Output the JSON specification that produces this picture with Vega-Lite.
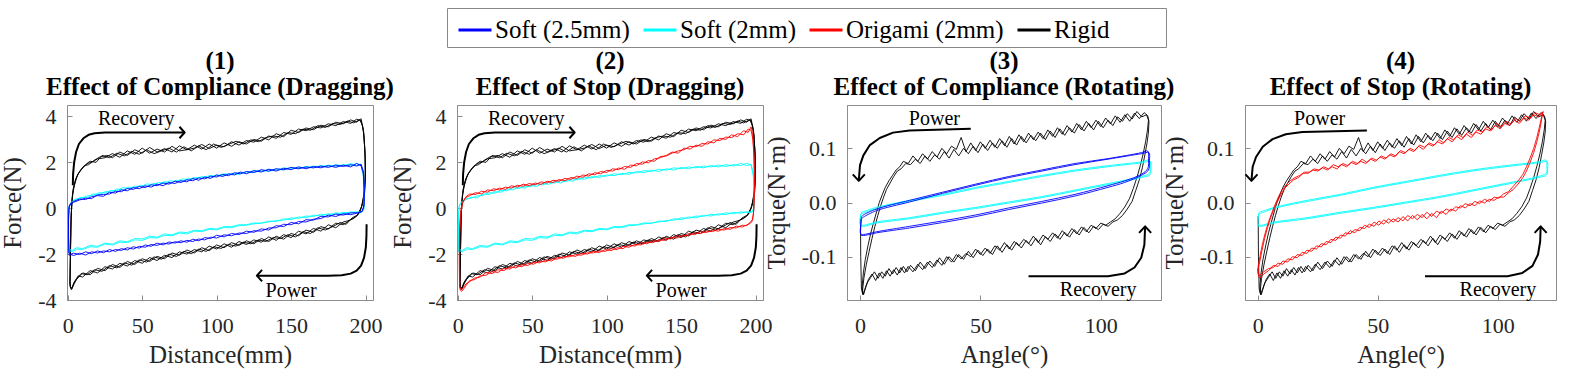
{
"$schema": "https://vega.github.io/schema/vega-lite/v6.json",
"background": "white",
"padding": {"left": 0, "top": 7, "right": 5, "bottom": 5},
"bounds": "flush",
"spacing": 84,
"config": {
 "font": "Liberation Serif",
 "view": {"stroke": "#8c8c8c"},
 "axis": {"grid": false, "domainColor": "#8c8c8c", "tickColor": "#8c8c8c", "tickSize": -5, "labelFontSize": 22, "titleFontSize": 25, "titleFontWeight": "normal", "labelColor": "#262626", "titleColor": "#262626", "labelFont": "Liberation Serif", "titleFont": "Liberation Serif"},
 "axisX": {"labelPadding": 20, "titlePadding": 6, "labelFlush": false},
 "axisY": {"labelPadding": 16, "titlePadding": 12},
 "title": {"fontSize": 25, "fontWeight": "bold", "color": "black", "anchor": "middle", "frame": "group", "lineHeight": 26, "offset": 5, "font": "Liberation Serif"},
 "text": {"font": "Liberation Serif"},
 "line": {"strokeJoin": "round"}
},
"datasets": {
"dR": [
{"c":1,"x":1.5,"y":-3.3},{"c":1,"x":1.8,"y":-2},{"c":1,"x":2.2,"y":-0.5},{"c":1,"x":2.8,"y":0.3},{"c":1,"x":3.5,"y":0.8},{"c":1,"x":5,"y":1.2},{"c":1,"x":7,"y":1.5},{"c":1,"x":10,"y":1.75},{"c":1,"x":13,"y":1.95},{"c":1,"x":16,"y":2.0},{"c":1,"x":20,"y":2.15},{"c":1,"x":25,"y":2.2},
{"c":1,"x":30,"y":2.38},{"c":1,"x":35,"y":2.22},{"c":1,"x":40,"y":2.5},{"c":1,"x":45,"y":2.35},{"c":1,"x":50,"y":2.62},{"c":1,"x":55,"y":2.4},{"c":1,"x":60,"y":2.58},{"c":1,"x":65,"y":2.45},{"c":1,"x":70,"y":2.7},{"c":1,"x":75,"y":2.5},{"c":1,"x":80,"y":2.55},{"c":1,"x":85,"y":2.75},{"c":1,"x":90,"y":2.58},{"c":1,"x":95,"y":2.8},{"c":1,"x":100,"y":2.62},{"c":1,"x":105,"y":2.85},{"c":1,"x":110,"y":2.7},{"c":1,"x":115,"y":2.9},{"c":1,"x":120,"y":2.8},{"c":1,"x":125,"y":3.0},{"c":1,"x":130,"y":2.92},{"c":1,"x":135,"y":3.15},{"c":1,"x":140,"y":3.05},{"c":1,"x":145,"y":3.3},{"c":1,"x":150,"y":3.22},{"c":1,"x":155,"y":3.45},{"c":1,"x":160,"y":3.38},{"c":1,"x":165,"y":3.55},{"c":1,"x":170,"y":3.5},{"c":1,"x":175,"y":3.68},{"c":1,"x":180,"y":3.6},{"c":1,"x":185,"y":3.78},{"c":1,"x":190,"y":3.7},{"c":1,"x":194,"y":3.88},{"c":1,"x":197,"y":3.82},
{"c":1,"x":198.5,"y":3.4},{"c":1,"x":199.5,"y":2.6},{"c":1,"x":200,"y":1.6},{"c":1,"x":199.5,"y":0.9},{"c":1,"x":198.5,"y":0.4},{"c":1,"x":197,"y":0.0},{"c":1,"x":194,"y":-0.35},{"c":1,"x":190,"y":-0.5},
{"c":1,"x":185,"y":-0.72},{"c":1,"x":180,"y":-0.65},{"c":1,"x":175,"y":-0.9},{"c":1,"x":170,"y":-0.8},{"c":1,"x":165,"y":-1.05},{"c":1,"x":160,"y":-0.95},{"c":1,"x":155,"y":-1.2},{"c":1,"x":150,"y":-1.1},{"c":1,"x":145,"y":-1.35},{"c":1,"x":140,"y":-1.22},{"c":1,"x":135,"y":-1.45},{"c":1,"x":130,"y":-1.32},{"c":1,"x":125,"y":-1.55},{"c":1,"x":120,"y":-1.42},{"c":1,"x":115,"y":-1.62},{"c":1,"x":110,"y":-1.5},{"c":1,"x":105,"y":-1.72},{"c":1,"x":100,"y":-1.6},{"c":1,"x":95,"y":-1.85},{"c":1,"x":90,"y":-1.72},{"c":1,"x":85,"y":-1.95},{"c":1,"x":80,"y":-1.82},{"c":1,"x":75,"y":-2.05},{"c":1,"x":70,"y":-1.95},{"c":1,"x":65,"y":-2.2},{"c":1,"x":60,"y":-2.1},{"c":1,"x":55,"y":-2.32},{"c":1,"x":50,"y":-2.2},{"c":1,"x":45,"y":-2.45},{"c":1,"x":40,"y":-2.32},{"c":1,"x":35,"y":-2.58},{"c":1,"x":30,"y":-2.45},{"c":1,"x":25,"y":-2.72},{"c":1,"x":20,"y":-2.62},{"c":1,"x":15,"y":-2.9},{"c":1,"x":10,"y":-2.82},{"c":1,"x":6,"y":-3.1},{"c":1,"x":4,"y":-3.3},{"c":1,"x":3,"y":-3.5},{"c":1,"x":2,"y":-3.45},{"c":1,"x":1.5,"y":-3.3},
{"c":2,"x":1.5,"y":-3.2},{"c":2,"x":1.9,"y":-1.8},{"c":2,"x":2.3,"y":-0.3},{"c":2,"x":3,"y":0.4},{"c":2,"x":4,"y":0.9},{"c":2,"x":5.5,"y":1.3},{"c":2,"x":8,"y":1.6},{"c":2,"x":11,"y":1.85},{"c":2,"x":14,"y":1.9},{"c":2,"x":18,"y":2.1},{"c":2,"x":22,"y":2.25},{"c":2,"x":27,"y":2.3},
{"c":2,"x":30,"y":2.2},{"c":2,"x":35,"y":2.45},{"c":2,"x":40,"y":2.3},{"c":2,"x":45,"y":2.55},{"c":2,"x":50,"y":2.4},{"c":2,"x":55,"y":2.65},{"c":2,"x":60,"y":2.45},{"c":2,"x":65,"y":2.6},{"c":2,"x":70,"y":2.45},{"c":2,"x":75,"y":2.72},{"c":2,"x":80,"y":2.55},{"c":2,"x":85,"y":2.62},{"c":2,"x":90,"y":2.78},{"c":2,"x":95,"y":2.6},{"c":2,"x":100,"y":2.75},{"c":2,"x":105,"y":2.68},{"c":2,"x":110,"y":2.9},{"c":2,"x":115,"y":2.75},{"c":2,"x":120,"y":2.95},{"c":2,"x":125,"y":2.88},{"c":2,"x":130,"y":3.1},{"c":2,"x":135,"y":2.98},{"c":2,"x":140,"y":3.25},{"c":2,"x":145,"y":3.12},{"c":2,"x":150,"y":3.4},{"c":2,"x":155,"y":3.3},{"c":2,"x":160,"y":3.5},{"c":2,"x":165,"y":3.42},{"c":2,"x":170,"y":3.62},{"c":2,"x":175,"y":3.55},{"c":2,"x":180,"y":3.75},{"c":2,"x":185,"y":3.68},{"c":2,"x":190,"y":3.85},{"c":2,"x":194,"y":3.75},{"c":2,"x":197,"y":3.9},
{"c":2,"x":198.8,"y":3.3},{"c":2,"x":199.6,"y":2.4},{"c":2,"x":200,"y":1.4},{"c":2,"x":199.4,"y":0.7},{"c":2,"x":198,"y":0.2},{"c":2,"x":196,"y":-0.2},{"c":2,"x":192,"y":-0.45},
{"c":2,"x":188,"y":-0.55},{"c":2,"x":185,"y":-0.6},{"c":2,"x":180,"y":-0.85},{"c":2,"x":175,"y":-0.72},{"c":2,"x":170,"y":-1.0},{"c":2,"x":165,"y":-0.88},{"c":2,"x":160,"y":-1.12},{"c":2,"x":155,"y":-1.0},{"c":2,"x":150,"y":-1.28},{"c":2,"x":145,"y":-1.15},{"c":2,"x":140,"y":-1.4},{"c":2,"x":135,"y":-1.25},{"c":2,"x":130,"y":-1.48},{"c":2,"x":125,"y":-1.38},{"c":2,"x":120,"y":-1.58},{"c":2,"x":115,"y":-1.45},{"c":2,"x":110,"y":-1.7},{"c":2,"x":105,"y":-1.55},{"c":2,"x":100,"y":-1.78},{"c":2,"x":95,"y":-1.65},{"c":2,"x":90,"y":-1.9},{"c":2,"x":85,"y":-1.8},{"c":2,"x":80,"y":-2.0},{"c":2,"x":75,"y":-1.9},{"c":2,"x":70,"y":-2.15},{"c":2,"x":65,"y":-2.05},{"c":2,"x":60,"y":-2.28},{"c":2,"x":55,"y":-2.15},{"c":2,"x":50,"y":-2.4},{"c":2,"x":45,"y":-2.28},{"c":2,"x":40,"y":-2.52},{"c":2,"x":35,"y":-2.4},{"c":2,"x":30,"y":-2.65},{"c":2,"x":25,"y":-2.55},{"c":2,"x":20,"y":-2.82},{"c":2,"x":15,"y":-2.72},{"c":2,"x":10,"y":-3.0},{"c":2,"x":7,"y":-2.95},{"c":2,"x":5,"y":-3.2},{"c":2,"x":3.5,"y":-3.4},{"c":2,"x":2.5,"y":-3.55},{"c":2,"x":1.8,"y":-3.4},{"c":2,"x":1.5,"y":-3.2},
{"c":3,"x":1.5,"y":-3.4},{"c":3,"x":1.7,"y":-2.2},{"c":3,"x":2.1,"y":-0.8},{"c":3,"x":2.6,"y":0.1},{"c":3,"x":3.2,"y":0.6},{"c":3,"x":4.5,"y":1.0},{"c":3,"x":6.5,"y":1.45},{"c":3,"x":9,"y":1.7},{"c":3,"x":12,"y":1.9},{"c":3,"x":15,"y":2.05},{"c":3,"x":19,"y":2.0},{"c":3,"x":23,"y":2.3},
{"c":3,"x":28,"y":2.2},{"c":3,"x":33,"y":2.4},{"c":3,"x":38,"y":2.28},{"c":3,"x":43,"y":2.48},{"c":3,"x":48,"y":2.35},{"c":3,"x":53,"y":2.55},{"c":3,"x":58,"y":2.38},{"c":3,"x":63,"y":2.5},{"c":3,"x":68,"y":2.62},{"c":3,"x":73,"y":2.45},{"c":3,"x":78,"y":2.68},{"c":3,"x":83,"y":2.5},{"c":3,"x":88,"y":2.72},{"c":3,"x":93,"y":2.55},{"c":3,"x":98,"y":2.8},{"c":3,"x":103,"y":2.65},{"c":3,"x":108,"y":2.78},{"c":3,"x":113,"y":2.92},{"c":3,"x":118,"y":2.8},{"c":3,"x":123,"y":2.98},{"c":3,"x":128,"y":2.9},{"c":3,"x":133,"y":3.08},{"c":3,"x":138,"y":3.15},{"c":3,"x":143,"y":3.1},{"c":3,"x":148,"y":3.3},{"c":3,"x":153,"y":3.25},{"c":3,"x":158,"y":3.45},{"c":3,"x":163,"y":3.4},{"c":3,"x":168,"y":3.6},{"c":3,"x":173,"y":3.52},{"c":3,"x":178,"y":3.7},{"c":3,"x":183,"y":3.65},{"c":3,"x":188,"y":3.8},{"c":3,"x":192,"y":3.72},{"c":3,"x":196,"y":3.86},
{"c":3,"x":198,"y":3.6},{"c":3,"x":199,"y":3.1},{"c":3,"x":199.8,"y":2.2},{"c":3,"x":199.6,"y":1.2},{"c":3,"x":198.8,"y":0.6},{"c":3,"x":197.5,"y":0.1},{"c":3,"x":195,"y":-0.28},{"c":3,"x":191,"y":-0.42},
{"c":3,"x":187,"y":-0.7},{"c":3,"x":183,"y":-0.62},{"c":3,"x":178,"y":-0.8},{"c":3,"x":173,"y":-0.95},{"c":3,"x":168,"y":-0.85},{"c":3,"x":163,"y":-1.1},{"c":3,"x":158,"y":-1.02},{"c":3,"x":153,"y":-1.25},{"c":3,"x":148,"y":-1.15},{"c":3,"x":143,"y":-1.32},{"c":3,"x":138,"y":-1.28},{"c":3,"x":133,"y":-1.45},{"c":3,"x":128,"y":-1.38},{"c":3,"x":123,"y":-1.55},{"c":3,"x":118,"y":-1.48},{"c":3,"x":113,"y":-1.65},{"c":3,"x":108,"y":-1.58},{"c":3,"x":103,"y":-1.75},{"c":3,"x":98,"y":-1.68},{"c":3,"x":93,"y":-1.88},{"c":3,"x":88,"y":-1.78},{"c":3,"x":83,"y":-1.98},{"c":3,"x":78,"y":-1.88},{"c":3,"x":73,"y":-2.1},{"c":3,"x":68,"y":-2.0},{"c":3,"x":63,"y":-2.22},{"c":3,"x":58,"y":-2.12},{"c":3,"x":53,"y":-2.35},{"c":3,"x":48,"y":-2.25},{"c":3,"x":43,"y":-2.48},{"c":3,"x":38,"y":-2.38},{"c":3,"x":33,"y":-2.6},{"c":3,"x":28,"y":-2.5},{"c":3,"x":23,"y":-2.75},{"c":3,"x":18,"y":-2.68},{"c":3,"x":13,"y":-2.9},{"c":3,"x":9,"y":-2.85},{"c":3,"x":6,"y":-3.05},{"c":3,"x":4,"y":-3.25},{"c":3,"x":3,"y":-3.45},{"c":3,"x":2,"y":-3.5},{"c":3,"x":1.5,"y":-3.4}
],
"dS25": [
{"c":1,"x":0.8,"y":-1.95},{"c":1,"x":0.5,"y":-1.2},{"c":1,"x":0.6,"y":-0.3},{"c":1,"x":1,"y":0.1},{"c":1,"x":2,"y":0.22},{"c":1,"x":4,"y":0.3},
{"c":1,"x":8,"y":0.4},{"c":1,"x":12,"y":0.38},{"c":1,"x":16,"y":0.5},{"c":1,"x":20,"y":0.55},{"c":1,"x":24,"y":0.52},{"c":1,"x":28,"y":0.7},{"c":1,"x":32,"y":0.66},{"c":1,"x":36,"y":0.8},{"c":1,"x":40,"y":0.76},{"c":1,"x":44,"y":0.9},{"c":1,"x":48,"y":0.85},{"c":1,"x":52,"y":0.98},{"c":1,"x":56,"y":0.92},{"c":1,"x":60,"y":1.05},{"c":1,"x":64,"y":0.98},{"c":1,"x":68,"y":1.12},{"c":1,"x":72,"y":1.08},{"c":1,"x":76,"y":1.2},{"c":1,"x":80,"y":1.15},{"c":1,"x":84,"y":1.3},{"c":1,"x":88,"y":1.22},{"c":1,"x":92,"y":1.36},{"c":1,"x":96,"y":1.3},{"c":1,"x":100,"y":1.45},{"c":1,"x":104,"y":1.38},{"c":1,"x":108,"y":1.5},{"c":1,"x":112,"y":1.45},{"c":1,"x":116,"y":1.58},{"c":1,"x":120,"y":1.5},{"c":1,"x":125,"y":1.64},{"c":1,"x":130,"y":1.58},{"c":1,"x":135,"y":1.7},{"c":1,"x":140,"y":1.62},{"c":1,"x":145,"y":1.74},{"c":1,"x":150,"y":1.68},{"c":1,"x":155,"y":1.8},{"c":1,"x":160,"y":1.72},{"c":1,"x":165,"y":1.82},{"c":1,"x":170,"y":1.76},{"c":1,"x":175,"y":1.86},{"c":1,"x":180,"y":1.78},{"c":1,"x":185,"y":1.88},{"c":1,"x":190,"y":1.8},{"c":1,"x":194,"y":1.95},{"c":1,"x":197,"y":1.85},
{"c":1,"x":198.5,"y":1.5},{"c":1,"x":199,"y":0.8},{"c":1,"x":199,"y":0.2},{"c":1,"x":198,"y":-0.12},{"c":1,"x":195,"y":-0.2},
{"c":1,"x":190,"y":-0.2},{"c":1,"x":185,"y":-0.3},{"c":1,"x":180,"y":-0.25},{"c":1,"x":175,"y":-0.38},{"c":1,"x":170,"y":-0.35},{"c":1,"x":165,"y":-0.52},{"c":1,"x":160,"y":-0.5},{"c":1,"x":155,"y":-0.68},{"c":1,"x":150,"y":-0.62},{"c":1,"x":145,"y":-0.8},{"c":1,"x":140,"y":-0.76},{"c":1,"x":135,"y":-0.95},{"c":1,"x":130,"y":-0.9},{"c":1,"x":125,"y":-1.05},{"c":1,"x":120,"y":-1.0},{"c":1,"x":115,"y":-1.15},{"c":1,"x":110,"y":-1.1},{"c":1,"x":105,"y":-1.25},{"c":1,"x":100,"y":-1.18},{"c":1,"x":96,"y":-1.32},{"c":1,"x":92,"y":-1.28},{"c":1,"x":88,"y":-1.42},{"c":1,"x":84,"y":-1.35},{"c":1,"x":80,"y":-1.48},{"c":1,"x":76,"y":-1.42},{"c":1,"x":72,"y":-1.52},{"c":1,"x":68,"y":-1.47},{"c":1,"x":64,"y":-1.6},{"c":1,"x":60,"y":-1.52},{"c":1,"x":56,"y":-1.66},{"c":1,"x":52,"y":-1.6},{"c":1,"x":48,"y":-1.74},{"c":1,"x":44,"y":-1.68},{"c":1,"x":40,"y":-1.82},{"c":1,"x":36,"y":-1.76},{"c":1,"x":32,"y":-1.88},{"c":1,"x":28,"y":-1.8},{"c":1,"x":24,"y":-1.94},{"c":1,"x":20,"y":-1.86},{"c":1,"x":16,"y":-1.98},{"c":1,"x":12,"y":-1.9},{"c":1,"x":8,"y":-2.02},{"c":1,"x":4,"y":-1.96},{"c":1,"x":2,"y":-2.0},{"c":1,"x":0.8,"y":-1.95},
{"c":2,"x":0.9,"y":-2.05},{"c":2,"x":0.6,"y":-1.4},{"c":2,"x":0.5,"y":-0.5},{"c":2,"x":0.9,"y":0.05},{"c":2,"x":2,"y":0.18},{"c":2,"x":4,"y":0.26},
{"c":2,"x":8,"y":0.36},{"c":2,"x":12,"y":0.44},{"c":2,"x":16,"y":0.42},{"c":2,"x":20,"y":0.58},{"c":2,"x":24,"y":0.6},{"c":2,"x":28,"y":0.62},{"c":2,"x":32,"y":0.74},{"c":2,"x":36,"y":0.72},{"c":2,"x":40,"y":0.86},{"c":2,"x":44,"y":0.82},{"c":2,"x":48,"y":0.95},{"c":2,"x":52,"y":0.9},{"c":2,"x":56,"y":1.02},{"c":2,"x":60,"y":0.98},{"c":2,"x":64,"y":1.1},{"c":2,"x":68,"y":1.05},{"c":2,"x":72,"y":1.18},{"c":2,"x":76,"y":1.12},{"c":2,"x":80,"y":1.24},{"c":2,"x":84,"y":1.2},{"c":2,"x":88,"y":1.32},{"c":2,"x":92,"y":1.28},{"c":2,"x":96,"y":1.4},{"c":2,"x":100,"y":1.36},{"c":2,"x":104,"y":1.48},{"c":2,"x":108,"y":1.42},{"c":2,"x":112,"y":1.55},{"c":2,"x":116,"y":1.5},{"c":2,"x":120,"y":1.6},{"c":2,"x":125,"y":1.56},{"c":2,"x":130,"y":1.68},{"c":2,"x":135,"y":1.62},{"c":2,"x":140,"y":1.72},{"c":2,"x":145,"y":1.68},{"c":2,"x":150,"y":1.78},{"c":2,"x":155,"y":1.72},{"c":2,"x":160,"y":1.8},{"c":2,"x":165,"y":1.76},{"c":2,"x":170,"y":1.84},{"c":2,"x":175,"y":1.78},{"c":2,"x":180,"y":1.88},{"c":2,"x":185,"y":1.82},{"c":2,"x":190,"y":1.9},{"c":2,"x":194,"y":1.84},{"c":2,"x":197,"y":1.92},
{"c":2,"x":198.6,"y":1.6},{"c":2,"x":199.2,"y":0.9},{"c":2,"x":199,"y":0.1},{"c":2,"x":197.5,"y":-0.15},{"c":2,"x":194,"y":-0.22},
{"c":2,"x":190,"y":-0.28},{"c":2,"x":185,"y":-0.24},{"c":2,"x":180,"y":-0.36},{"c":2,"x":175,"y":-0.3},{"c":2,"x":170,"y":-0.45},{"c":2,"x":165,"y":-0.48},{"c":2,"x":160,"y":-0.6},{"c":2,"x":155,"y":-0.58},{"c":2,"x":150,"y":-0.72},{"c":2,"x":145,"y":-0.7},{"c":2,"x":140,"y":-0.85},{"c":2,"x":135,"y":-0.86},{"c":2,"x":130,"y":-1.0},{"c":2,"x":125,"y":-0.98},{"c":2,"x":120,"y":-1.1},{"c":2,"x":115,"y":-1.08},{"c":2,"x":110,"y":-1.2},{"c":2,"x":105,"y":-1.16},{"c":2,"x":100,"y":-1.3},{"c":2,"x":96,"y":-1.26},{"c":2,"x":92,"y":-1.38},{"c":2,"x":88,"y":-1.34},{"c":2,"x":84,"y":-1.45},{"c":2,"x":80,"y":-1.4},{"c":2,"x":76,"y":-1.5},{"c":2,"x":72,"y":-1.46},{"c":2,"x":68,"y":-1.56},{"c":2,"x":64,"y":-1.52},{"c":2,"x":60,"y":-1.62},{"c":2,"x":56,"y":-1.58},{"c":2,"x":52,"y":-1.7},{"c":2,"x":48,"y":-1.66},{"c":2,"x":44,"y":-1.78},{"c":2,"x":40,"y":-1.72},{"c":2,"x":36,"y":-1.84},{"c":2,"x":32,"y":-1.8},{"c":2,"x":28,"y":-1.9},{"c":2,"x":24,"y":-1.86},{"c":2,"x":20,"y":-1.95},{"c":2,"x":16,"y":-1.9},{"c":2,"x":12,"y":-2.04},{"c":2,"x":8,"y":-1.96},{"c":2,"x":4,"y":-2.06},{"c":2,"x":2,"y":-2.02},{"c":2,"x":0.9,"y":-2.05}
],
"dS2": [
{"c":1,"x":0.6,"y":-1.9},{"c":1,"x":0.4,"y":-1.0},{"c":1,"x":0.6,"y":-0.2},{"c":1,"x":1.2,"y":0.15},{"c":1,"x":2.5,"y":0.28},{"c":1,"x":5,"y":0.36},
{"c":1,"x":9,"y":0.48},{"c":1,"x":13,"y":0.45},{"c":1,"x":17,"y":0.62},{"c":1,"x":21,"y":0.6},{"c":1,"x":25,"y":0.72},{"c":1,"x":29,"y":0.7},{"c":1,"x":33,"y":0.84},{"c":1,"x":37,"y":0.8},{"c":1,"x":41,"y":0.92},{"c":1,"x":45,"y":0.88},{"c":1,"x":49,"y":1.0},{"c":1,"x":53,"y":0.95},{"c":1,"x":57,"y":1.08},{"c":1,"x":61,"y":1.04},{"c":1,"x":65,"y":1.16},{"c":1,"x":69,"y":1.1},{"c":1,"x":73,"y":1.22},{"c":1,"x":77,"y":1.18},{"c":1,"x":81,"y":1.3},{"c":1,"x":85,"y":1.26},{"c":1,"x":90,"y":1.38},{"c":1,"x":95,"y":1.34},{"c":1,"x":100,"y":1.45},{"c":1,"x":105,"y":1.42},{"c":1,"x":110,"y":1.52},{"c":1,"x":115,"y":1.48},{"c":1,"x":120,"y":1.6},{"c":1,"x":125,"y":1.55},{"c":1,"x":130,"y":1.66},{"c":1,"x":135,"y":1.6},{"c":1,"x":140,"y":1.72},{"c":1,"x":145,"y":1.66},{"c":1,"x":150,"y":1.78},{"c":1,"x":155,"y":1.72},{"c":1,"x":160,"y":1.82},{"c":1,"x":165,"y":1.76},{"c":1,"x":170,"y":1.86},{"c":1,"x":175,"y":1.8},{"c":1,"x":180,"y":1.9},{"c":1,"x":185,"y":1.84},{"c":1,"x":190,"y":1.95},{"c":1,"x":194,"y":1.86},{"c":1,"x":197,"y":1.92},
{"c":1,"x":198.6,"y":1.5},{"c":1,"x":199.2,"y":0.7},{"c":1,"x":199,"y":0.0},{"c":1,"x":197.5,"y":-0.15},{"c":1,"x":194,"y":-0.18},
{"c":1,"x":190,"y":-0.16},{"c":1,"x":185,"y":-0.24},{"c":1,"x":180,"y":-0.2},{"c":1,"x":175,"y":-0.3},{"c":1,"x":170,"y":-0.26},{"c":1,"x":165,"y":-0.36},{"c":1,"x":160,"y":-0.34},{"c":1,"x":155,"y":-0.44},{"c":1,"x":150,"y":-0.42},{"c":1,"x":145,"y":-0.52},{"c":1,"x":140,"y":-0.54},{"c":1,"x":135,"y":-0.6},{"c":1,"x":130,"y":-0.64},{"c":1,"x":125,"y":-0.68},{"c":1,"x":120,"y":-0.74},{"c":1,"x":115,"y":-0.76},{"c":1,"x":110,"y":-0.85},{"c":1,"x":105,"y":-0.84},{"c":1,"x":100,"y":-0.94},{"c":1,"x":95,"y":-0.92},{"c":1,"x":90,"y":-1.02},{"c":1,"x":85,"y":-1.0},{"c":1,"x":80,"y":-1.12},{"c":1,"x":75,"y":-1.08},{"c":1,"x":70,"y":-1.2},{"c":1,"x":65,"y":-1.18},{"c":1,"x":60,"y":-1.3},{"c":1,"x":55,"y":-1.28},{"c":1,"x":50,"y":-1.4},{"c":1,"x":45,"y":-1.38},{"c":1,"x":40,"y":-1.5},{"c":1,"x":35,"y":-1.48},{"c":1,"x":30,"y":-1.6},{"c":1,"x":25,"y":-1.56},{"c":1,"x":20,"y":-1.7},{"c":1,"x":15,"y":-1.68},{"c":1,"x":10,"y":-1.8},{"c":1,"x":6,"y":-1.78},{"c":1,"x":3,"y":-1.9},{"c":1,"x":1.5,"y":-1.86},{"c":1,"x":0.6,"y":-1.9},
{"c":2,"x":0.7,"y":-1.82},{"c":2,"x":0.5,"y":-1.1},{"c":2,"x":0.5,"y":-0.4},{"c":2,"x":1,"y":0.1},{"c":2,"x":2.5,"y":0.24},{"c":2,"x":5,"y":0.4},
{"c":2,"x":9,"y":0.44},{"c":2,"x":13,"y":0.54},{"c":2,"x":17,"y":0.56},{"c":2,"x":21,"y":0.68},{"c":2,"x":25,"y":0.66},{"c":2,"x":29,"y":0.78},{"c":2,"x":33,"y":0.76},{"c":2,"x":37,"y":0.9},{"c":2,"x":41,"y":0.86},{"c":2,"x":45,"y":0.96},{"c":2,"x":49,"y":0.94},{"c":2,"x":53,"y":1.06},{"c":2,"x":57,"y":1.02},{"c":2,"x":61,"y":1.12},{"c":2,"x":65,"y":1.1},{"c":2,"x":69,"y":1.2},{"c":2,"x":73,"y":1.16},{"c":2,"x":77,"y":1.28},{"c":2,"x":81,"y":1.24},{"c":2,"x":85,"y":1.34},{"c":2,"x":90,"y":1.32},{"c":2,"x":95,"y":1.42},{"c":2,"x":100,"y":1.4},{"c":2,"x":105,"y":1.5},{"c":2,"x":110,"y":1.46},{"c":2,"x":115,"y":1.56},{"c":2,"x":120,"y":1.54},{"c":2,"x":125,"y":1.64},{"c":2,"x":130,"y":1.6},{"c":2,"x":135,"y":1.7},{"c":2,"x":140,"y":1.66},{"c":2,"x":145,"y":1.76},{"c":2,"x":150,"y":1.72},{"c":2,"x":155,"y":1.8},{"c":2,"x":160,"y":1.76},{"c":2,"x":165,"y":1.84},{"c":2,"x":170,"y":1.8},{"c":2,"x":175,"y":1.88},{"c":2,"x":180,"y":1.82},{"c":2,"x":185,"y":1.9},{"c":2,"x":190,"y":1.86},{"c":2,"x":194,"y":1.96},{"c":2,"x":197,"y":1.88},
{"c":2,"x":198.5,"y":1.4},{"c":2,"x":199.1,"y":0.6},{"c":2,"x":198.8,"y":-0.05},{"c":2,"x":197,"y":-0.2},{"c":2,"x":194,"y":-0.15},
{"c":2,"x":190,"y":-0.22},{"c":2,"x":185,"y":-0.18},{"c":2,"x":180,"y":-0.28},{"c":2,"x":175,"y":-0.24},{"c":2,"x":170,"y":-0.34},{"c":2,"x":165,"y":-0.3},{"c":2,"x":160,"y":-0.42},{"c":2,"x":155,"y":-0.38},{"c":2,"x":150,"y":-0.5},{"c":2,"x":145,"y":-0.46},{"c":2,"x":140,"y":-0.58},{"c":2,"x":135,"y":-0.56},{"c":2,"x":130,"y":-0.66},{"c":2,"x":125,"y":-0.64},{"c":2,"x":120,"y":-0.72},{"c":2,"x":115,"y":-0.72},{"c":2,"x":110,"y":-0.8},{"c":2,"x":105,"y":-0.8},{"c":2,"x":100,"y":-0.9},{"c":2,"x":95,"y":-0.88},{"c":2,"x":90,"y":-0.98},{"c":2,"x":85,"y":-0.96},{"c":2,"x":80,"y":-1.06},{"c":2,"x":75,"y":-1.04},{"c":2,"x":70,"y":-1.16},{"c":2,"x":65,"y":-1.12},{"c":2,"x":60,"y":-1.26},{"c":2,"x":55,"y":-1.22},{"c":2,"x":50,"y":-1.34},{"c":2,"x":45,"y":-1.32},{"c":2,"x":40,"y":-1.46},{"c":2,"x":35,"y":-1.42},{"c":2,"x":30,"y":-1.56},{"c":2,"x":25,"y":-1.52},{"c":2,"x":20,"y":-1.66},{"c":2,"x":15,"y":-1.62},{"c":2,"x":10,"y":-1.76},{"c":2,"x":6,"y":-1.72},{"c":2,"x":3,"y":-1.84},{"c":2,"x":1.5,"y":-1.8},{"c":2,"x":0.7,"y":-1.82}
],
"dO": [
{"c":1,"x":1.2,"y":-3.4},{"c":1,"x":1.0,"y":-2.2},{"c":1,"x":1.2,"y":-1.0},{"c":1,"x":1.8,"y":-0.2},{"c":1,"x":3,"y":0.25},{"c":1,"x":5,"y":0.45},
{"c":1,"x":8,"y":0.55},{"c":1,"x":12,"y":0.68},{"c":1,"x":16,"y":0.62},{"c":1,"x":20,"y":0.8},{"c":1,"x":24,"y":0.76},{"c":1,"x":28,"y":0.88},{"c":1,"x":32,"y":0.82},{"c":1,"x":36,"y":0.98},{"c":1,"x":40,"y":0.92},{"c":1,"x":44,"y":1.05},{"c":1,"x":48,"y":0.98},{"c":1,"x":52,"y":1.1},{"c":1,"x":56,"y":1.04},{"c":1,"x":60,"y":1.18},{"c":1,"x":64,"y":1.12},{"c":1,"x":68,"y":1.25},{"c":1,"x":72,"y":1.2},{"c":1,"x":76,"y":1.34},{"c":1,"x":80,"y":1.3},{"c":1,"x":84,"y":1.45},{"c":1,"x":88,"y":1.4},{"c":1,"x":92,"y":1.55},{"c":1,"x":96,"y":1.5},{"c":1,"x":100,"y":1.65},{"c":1,"x":104,"y":1.62},{"c":1,"x":108,"y":1.75},{"c":1,"x":112,"y":1.7},{"c":1,"x":116,"y":1.88},{"c":1,"x":120,"y":1.85},{"c":1,"x":124,"y":2.02},{"c":1,"x":128,"y":1.98},{"c":1,"x":132,"y":2.15},{"c":1,"x":136,"y":2.2},{"c":1,"x":140,"y":2.3},{"c":1,"x":144,"y":2.45},{"c":1,"x":148,"y":2.4},{"c":1,"x":152,"y":2.62},{"c":1,"x":156,"y":2.58},{"c":1,"x":160,"y":2.75},{"c":1,"x":164,"y":2.7},{"c":1,"x":168,"y":2.9},{"c":1,"x":172,"y":2.85},{"c":1,"x":176,"y":3.05},{"c":1,"x":180,"y":3.0},{"c":1,"x":184,"y":3.2},{"c":1,"x":188,"y":3.12},{"c":1,"x":192,"y":3.38},{"c":1,"x":195,"y":3.3},{"c":1,"x":197,"y":3.55},
{"c":1,"x":198,"y":3.3},{"c":1,"x":198.8,"y":2.5},{"c":1,"x":199.2,"y":1.5},{"c":1,"x":199.2,"y":0.6},{"c":1,"x":198.8,"y":-0.1},{"c":1,"x":198,"y":-0.5},{"c":1,"x":195,"y":-0.7},
{"c":1,"x":191,"y":-0.82},{"c":1,"x":187,"y":-0.78},{"c":1,"x":183,"y":-0.92},{"c":1,"x":179,"y":-0.88},{"c":1,"x":175,"y":-1.0},{"c":1,"x":171,"y":-0.95},{"c":1,"x":167,"y":-1.06},{"c":1,"x":163,"y":-1.02},{"c":1,"x":159,"y":-1.15},{"c":1,"x":155,"y":-1.1},{"c":1,"x":151,"y":-1.25},{"c":1,"x":147,"y":-1.2},{"c":1,"x":143,"y":-1.34},{"c":1,"x":139,"y":-1.3},{"c":1,"x":135,"y":-1.45},{"c":1,"x":131,"y":-1.42},{"c":1,"x":127,"y":-1.55},{"c":1,"x":123,"y":-1.5},{"c":1,"x":119,"y":-1.65},{"c":1,"x":115,"y":-1.6},{"c":1,"x":111,"y":-1.76},{"c":1,"x":107,"y":-1.72},{"c":1,"x":103,"y":-1.85},{"c":1,"x":99,"y":-1.8},{"c":1,"x":95,"y":-1.93},{"c":1,"x":91,"y":-1.88},{"c":1,"x":87,"y":-2.0},{"c":1,"x":83,"y":-1.96},{"c":1,"x":79,"y":-2.1},{"c":1,"x":75,"y":-2.05},{"c":1,"x":71,"y":-2.18},{"c":1,"x":67,"y":-2.14},{"c":1,"x":63,"y":-2.3},{"c":1,"x":59,"y":-2.25},{"c":1,"x":55,"y":-2.38},{"c":1,"x":51,"y":-2.35},{"c":1,"x":47,"y":-2.5},{"c":1,"x":43,"y":-2.45},{"c":1,"x":39,"y":-2.6},{"c":1,"x":35,"y":-2.55},{"c":1,"x":31,"y":-2.72},{"c":1,"x":27,"y":-2.68},{"c":1,"x":23,"y":-2.85},{"c":1,"x":19,"y":-2.8},{"c":1,"x":15,"y":-3.0},{"c":1,"x":11,"y":-3.05},{"c":1,"x":8,"y":-3.2},{"c":1,"x":5.5,"y":-3.3},{"c":1,"x":4,"y":-3.45},{"c":1,"x":2.7,"y":-3.55},{"c":1,"x":1.8,"y":-3.5},{"c":1,"x":1.2,"y":-3.4},
{"c":2,"x":1.4,"y":-3.5},{"c":2,"x":1.2,"y":-2.4},{"c":2,"x":1.3,"y":-1.2},{"c":2,"x":1.9,"y":-0.3},{"c":2,"x":3.2,"y":0.2},{"c":2,"x":5.5,"y":0.5},
{"c":2,"x":8,"y":0.62},{"c":2,"x":12,"y":0.6},{"c":2,"x":16,"y":0.74},{"c":2,"x":20,"y":0.7},{"c":2,"x":24,"y":0.85},{"c":2,"x":28,"y":0.8},{"c":2,"x":32,"y":0.92},{"c":2,"x":36,"y":0.88},{"c":2,"x":40,"y":1.0},{"c":2,"x":44,"y":0.96},{"c":2,"x":48,"y":1.08},{"c":2,"x":52,"y":1.02},{"c":2,"x":56,"y":1.15},{"c":2,"x":60,"y":1.1},{"c":2,"x":64,"y":1.22},{"c":2,"x":68,"y":1.18},{"c":2,"x":72,"y":1.3},{"c":2,"x":76,"y":1.26},{"c":2,"x":80,"y":1.4},{"c":2,"x":84,"y":1.35},{"c":2,"x":88,"y":1.5},{"c":2,"x":92,"y":1.46},{"c":2,"x":96,"y":1.6},{"c":2,"x":100,"y":1.56},{"c":2,"x":104,"y":1.72},{"c":2,"x":108,"y":1.68},{"c":2,"x":112,"y":1.82},{"c":2,"x":116,"y":1.78},{"c":2,"x":120,"y":1.95},{"c":2,"x":124,"y":1.92},{"c":2,"x":128,"y":2.08},{"c":2,"x":132,"y":2.05},{"c":2,"x":136,"y":2.25},{"c":2,"x":140,"y":2.28},{"c":2,"x":144,"y":2.4},{"c":2,"x":148,"y":2.5},{"c":2,"x":152,"y":2.55},{"c":2,"x":156,"y":2.7},{"c":2,"x":160,"y":2.68},{"c":2,"x":164,"y":2.82},{"c":2,"x":168,"y":2.8},{"c":2,"x":172,"y":2.98},{"c":2,"x":176,"y":2.95},{"c":2,"x":180,"y":3.1},{"c":2,"x":184,"y":3.08},{"c":2,"x":188,"y":3.25},{"c":2,"x":192,"y":3.2},{"c":2,"x":195,"y":3.45},{"c":2,"x":197,"y":3.4},
{"c":2,"x":198.2,"y":3.0},{"c":2,"x":199,"y":2.2},{"c":2,"x":199.3,"y":1.2},{"c":2,"x":199,"y":0.3},{"c":2,"x":198.5,"y":-0.3},{"c":2,"x":197.5,"y":-0.6},{"c":2,"x":194,"y":-0.76},
{"c":2,"x":191,"y":-0.74},{"c":2,"x":187,"y":-0.86},{"c":2,"x":183,"y":-0.84},{"c":2,"x":179,"y":-0.95},{"c":2,"x":175,"y":-0.92},{"c":2,"x":171,"y":-1.02},{"c":2,"x":167,"y":-1.0},{"c":2,"x":163,"y":-1.1},{"c":2,"x":159,"y":-1.08},{"c":2,"x":155,"y":-1.2},{"c":2,"x":151,"y":-1.18},{"c":2,"x":147,"y":-1.3},{"c":2,"x":143,"y":-1.28},{"c":2,"x":139,"y":-1.4},{"c":2,"x":135,"y":-1.38},{"c":2,"x":131,"y":-1.5},{"c":2,"x":127,"y":-1.48},{"c":2,"x":123,"y":-1.6},{"c":2,"x":119,"y":-1.58},{"c":2,"x":115,"y":-1.7},{"c":2,"x":111,"y":-1.66},{"c":2,"x":107,"y":-1.8},{"c":2,"x":103,"y":-1.76},{"c":2,"x":99,"y":-1.88},{"c":2,"x":95,"y":-1.86},{"c":2,"x":91,"y":-1.95},{"c":2,"x":87,"y":-1.94},{"c":2,"x":83,"y":-2.05},{"c":2,"x":79,"y":-2.02},{"c":2,"x":75,"y":-2.12},{"c":2,"x":71,"y":-2.1},{"c":2,"x":67,"y":-2.22},{"c":2,"x":63,"y":-2.2},{"c":2,"x":59,"y":-2.34},{"c":2,"x":55,"y":-2.3},{"c":2,"x":51,"y":-2.44},{"c":2,"x":47,"y":-2.4},{"c":2,"x":43,"y":-2.55},{"c":2,"x":39,"y":-2.5},{"c":2,"x":35,"y":-2.65},{"c":2,"x":31,"y":-2.62},{"c":2,"x":27,"y":-2.8},{"c":2,"x":23,"y":-2.76},{"c":2,"x":19,"y":-2.92},{"c":2,"x":15,"y":-2.95},{"c":2,"x":11,"y":-3.12},{"c":2,"x":8,"y":-3.15},{"c":2,"x":5.5,"y":-3.38},{"c":2,"x":4,"y":-3.52},{"c":2,"x":2.7,"y":-3.62},{"c":2,"x":1.8,"y":-3.58},{"c":2,"x":1.4,"y":-3.5}
],
"rR": [
{"c":1,"x":0.2,"y":-0.025},{"c":1,"x":0.3,"y":-0.1},{"c":1,"x":0.6,"y":-0.16},{"c":1,"x":1.2,"y":-0.17},
{"c":1,"x":2,"y":-0.16},{"c":1,"x":3,"y":-0.148},{"c":1,"x":4.5,"y":-0.138},{"c":1,"x":6,"y":-0.128},{"c":1,"x":7.5,"y":-0.14},{"c":1,"x":9,"y":-0.128},{"c":1,"x":10.5,"y":-0.136},{"c":1,"x":12,"y":-0.122},{"c":1,"x":13.5,"y":-0.132},{"c":1,"x":15,"y":-0.12},{"c":1,"x":16.5,"y":-0.13},{"c":1,"x":18,"y":-0.118},{"c":1,"x":19.5,"y":-0.128},{"c":1,"x":21,"y":-0.116},{"c":1,"x":23,"y":-0.126},{"c":1,"x":25,"y":-0.11},{"c":1,"x":27,"y":-0.122},{"c":1,"x":29,"y":-0.108},{"c":1,"x":31,"y":-0.118},{"c":1,"x":33,"y":-0.102},{"c":1,"x":35,"y":-0.114},{"c":1,"x":37,"y":-0.1},{"c":1,"x":39,"y":-0.11},{"c":1,"x":41,"y":-0.096},{"c":1,"x":43,"y":-0.105},{"c":1,"x":45,"y":-0.09},{"c":1,"x":47,"y":-0.102},{"c":1,"x":49,"y":-0.088},{"c":1,"x":51,"y":-0.098},{"c":1,"x":53,"y":-0.086},{"c":1,"x":55,"y":-0.096},{"c":1,"x":57,"y":-0.08},{"c":1,"x":59,"y":-0.092},{"c":1,"x":61,"y":-0.078},{"c":1,"x":63,"y":-0.088},{"c":1,"x":65,"y":-0.074},{"c":1,"x":67,"y":-0.084},{"c":1,"x":69,"y":-0.07},{"c":1,"x":71,"y":-0.08},{"c":1,"x":73,"y":-0.066},{"c":1,"x":75,"y":-0.078},{"c":1,"x":77,"y":-0.063},{"c":1,"x":79,"y":-0.072},{"c":1,"x":81,"y":-0.058},{"c":1,"x":83,"y":-0.068},{"c":1,"x":85,"y":-0.055},{"c":1,"x":87,"y":-0.064},{"c":1,"x":89,"y":-0.05},{"c":1,"x":91,"y":-0.06},{"c":1,"x":93,"y":-0.046},{"c":1,"x":95,"y":-0.056},{"c":1,"x":97,"y":-0.044},{"c":1,"x":99,"y":-0.05},{"c":1,"x":101,"y":-0.04},{"c":1,"x":103,"y":-0.044},{"c":1,"x":105,"y":-0.036},{"c":1,"x":107,"y":-0.032},{"c":1,"x":109,"y":-0.024},{"c":1,"x":111,"y":-0.012},{"c":1,"x":113,"y":0.002},{"c":1,"x":114.5,"y":0.022},{"c":1,"x":116,"y":0.042},{"c":1,"x":117.3,"y":0.065},{"c":1,"x":118.3,"y":0.088},{"c":1,"x":119.2,"y":0.11},{"c":1,"x":119.8,"y":0.13},{"c":1,"x":120,"y":0.15},{"c":1,"x":119.5,"y":0.16},
{"c":1,"x":118,"y":0.166},{"c":1,"x":116,"y":0.155},{"c":1,"x":114,"y":0.165},{"c":1,"x":112,"y":0.15},{"c":1,"x":110,"y":0.162},{"c":1,"x":108,"y":0.148},{"c":1,"x":106,"y":0.16},{"c":1,"x":104,"y":0.145},{"c":1,"x":102,"y":0.156},{"c":1,"x":100,"y":0.14},{"c":1,"x":98,"y":0.152},{"c":1,"x":96,"y":0.138},{"c":1,"x":94,"y":0.15},{"c":1,"x":92,"y":0.134},{"c":1,"x":90,"y":0.146},{"c":1,"x":88,"y":0.13},{"c":1,"x":86,"y":0.142},{"c":1,"x":84,"y":0.126},{"c":1,"x":82,"y":0.138},{"c":1,"x":80,"y":0.122},{"c":1,"x":78,"y":0.134},{"c":1,"x":76,"y":0.118},{"c":1,"x":74,"y":0.13},{"c":1,"x":72,"y":0.116},{"c":1,"x":70,"y":0.128},{"c":1,"x":68,"y":0.112},{"c":1,"x":66,"y":0.125},{"c":1,"x":64,"y":0.108},{"c":1,"x":62,"y":0.122},{"c":1,"x":60,"y":0.105},{"c":1,"x":58,"y":0.118},{"c":1,"x":56,"y":0.102},{"c":1,"x":54,"y":0.115},{"c":1,"x":52,"y":0.1},{"c":1,"x":50,"y":0.112},{"c":1,"x":48,"y":0.096},{"c":1,"x":46,"y":0.11},{"c":1,"x":44,"y":0.094},{"c":1,"x":42,"y":0.12},{"c":1,"x":40,"y":0.098},{"c":1,"x":38,"y":0.104},{"c":1,"x":36,"y":0.09},{"c":1,"x":34,"y":0.1},{"c":1,"x":32,"y":0.084},{"c":1,"x":30,"y":0.094},{"c":1,"x":28,"y":0.08},{"c":1,"x":26,"y":0.09},{"c":1,"x":24,"y":0.076},{"c":1,"x":22,"y":0.086},{"c":1,"x":20,"y":0.072},{"c":1,"x":18,"y":0.076},{"c":1,"x":16.5,"y":0.066},{"c":1,"x":15,"y":0.06},{"c":1,"x":13.5,"y":0.05},{"c":1,"x":12,"y":0.04},{"c":1,"x":10.5,"y":0.028},{"c":1,"x":9.2,"y":0.014},{"c":1,"x":8,"y":0.0},{"c":1,"x":6.9,"y":-0.017},{"c":1,"x":5.7,"y":-0.036},{"c":1,"x":4.5,"y":-0.056},{"c":1,"x":3.3,"y":-0.08},{"c":1,"x":2.2,"y":-0.105},{"c":1,"x":1.4,"y":-0.13},{"c":1,"x":0.9,"y":-0.155},{"c":1,"x":1.2,"y":-0.17},
{"c":2,"x":1,"y":-0.165},{"c":2,"x":1.5,"y":-0.17},{"c":2,"x":2.5,"y":-0.155},{"c":2,"x":3.5,"y":-0.142},{"c":2,"x":5,"y":-0.132},{"c":2,"x":6.5,"y":-0.144},{"c":2,"x":8,"y":-0.13},{"c":2,"x":9.5,"y":-0.14},{"c":2,"x":11,"y":-0.126},{"c":2,"x":12.5,"y":-0.136},{"c":2,"x":14,"y":-0.124},{"c":2,"x":15.5,"y":-0.134},{"c":2,"x":17,"y":-0.12},{"c":2,"x":18.5,"y":-0.13},{"c":2,"x":20,"y":-0.118},{"c":2,"x":22,"y":-0.128},{"c":2,"x":24,"y":-0.114},{"c":2,"x":26,"y":-0.124},{"c":2,"x":28,"y":-0.11},{"c":2,"x":30,"y":-0.12},{"c":2,"x":32,"y":-0.106},{"c":2,"x":34,"y":-0.116},{"c":2,"x":36,"y":-0.1},{"c":2,"x":38,"y":-0.11},{"c":2,"x":40,"y":-0.096},{"c":2,"x":42,"y":-0.104},{"c":2,"x":44,"y":-0.094},{"c":2,"x":46,"y":-0.1},{"c":2,"x":48,"y":-0.086},{"c":2,"x":50,"y":-0.096},{"c":2,"x":52,"y":-0.084},{"c":2,"x":54,"y":-0.094},{"c":2,"x":56,"y":-0.08},{"c":2,"x":58,"y":-0.088},{"c":2,"x":60,"y":-0.074},{"c":2,"x":62,"y":-0.086},{"c":2,"x":64,"y":-0.072},{"c":2,"x":66,"y":-0.08},{"c":2,"x":68,"y":-0.068},{"c":2,"x":70,"y":-0.076},{"c":2,"x":72,"y":-0.062},{"c":2,"x":74,"y":-0.074},{"c":2,"x":76,"y":-0.06},{"c":2,"x":78,"y":-0.068},{"c":2,"x":80,"y":-0.056},{"c":2,"x":82,"y":-0.066},{"c":2,"x":84,"y":-0.052},{"c":2,"x":86,"y":-0.062},{"c":2,"x":88,"y":-0.048},{"c":2,"x":90,"y":-0.058},{"c":2,"x":92,"y":-0.045},{"c":2,"x":94,"y":-0.054},{"c":2,"x":96,"y":-0.042},{"c":2,"x":98,"y":-0.048},{"c":2,"x":100,"y":-0.038},{"c":2,"x":102,"y":-0.042},{"c":2,"x":104,"y":-0.036},{"c":2,"x":106,"y":-0.03},{"c":2,"x":108,"y":-0.02},{"c":2,"x":110,"y":-0.008},{"c":2,"x":112,"y":0.008},{"c":2,"x":113.5,"y":0.026},{"c":2,"x":115,"y":0.046},{"c":2,"x":116.4,"y":0.068},{"c":2,"x":117.6,"y":0.09},{"c":2,"x":118.6,"y":0.112},{"c":2,"x":119.4,"y":0.134},{"c":2,"x":119.8,"y":0.152},{"c":2,"x":119,"y":0.162},
{"c":2,"x":117,"y":0.158},{"c":2,"x":115,"y":0.168},{"c":2,"x":113,"y":0.154},{"c":2,"x":111,"y":0.164},{"c":2,"x":109,"y":0.15},{"c":2,"x":107,"y":0.158},{"c":2,"x":105,"y":0.142},{"c":2,"x":103,"y":0.152},{"c":2,"x":101,"y":0.138},{"c":2,"x":99,"y":0.15},{"c":2,"x":97,"y":0.134},{"c":2,"x":95,"y":0.146},{"c":2,"x":93,"y":0.132},{"c":2,"x":91,"y":0.144},{"c":2,"x":89,"y":0.128},{"c":2,"x":87,"y":0.138},{"c":2,"x":85,"y":0.124},{"c":2,"x":83,"y":0.136},{"c":2,"x":81,"y":0.12},{"c":2,"x":79,"y":0.132},{"c":2,"x":77,"y":0.116},{"c":2,"x":75,"y":0.128},{"c":2,"x":73,"y":0.114},{"c":2,"x":71,"y":0.124},{"c":2,"x":69,"y":0.11},{"c":2,"x":67,"y":0.122},{"c":2,"x":65,"y":0.106},{"c":2,"x":63,"y":0.118},{"c":2,"x":61,"y":0.102},{"c":2,"x":59,"y":0.114},{"c":2,"x":57,"y":0.1},{"c":2,"x":55,"y":0.11},{"c":2,"x":53,"y":0.096},{"c":2,"x":51,"y":0.108},{"c":2,"x":49,"y":0.092},{"c":2,"x":47,"y":0.104},{"c":2,"x":45,"y":0.09},{"c":2,"x":43,"y":0.1},{"c":2,"x":41,"y":0.086},{"c":2,"x":39,"y":0.098},{"c":2,"x":37,"y":0.082},{"c":2,"x":35,"y":0.094},{"c":2,"x":33,"y":0.08},{"c":2,"x":31,"y":0.088},{"c":2,"x":29,"y":0.076},{"c":2,"x":27,"y":0.086},{"c":2,"x":25,"y":0.072},{"c":2,"x":23,"y":0.08},{"c":2,"x":21,"y":0.07},{"c":2,"x":19,"y":0.072},{"c":2,"x":17,"y":0.062},{"c":2,"x":15.5,"y":0.058},{"c":2,"x":14,"y":0.048},{"c":2,"x":12.5,"y":0.036},{"c":2,"x":11,"y":0.024},{"c":2,"x":9.8,"y":0.01},{"c":2,"x":8.6,"y":-0.006},{"c":2,"x":7.4,"y":-0.024},{"c":2,"x":6.2,"y":-0.044},{"c":2,"x":5,"y":-0.066},{"c":2,"x":3.8,"y":-0.09},{"c":2,"x":2.6,"y":-0.115},{"c":2,"x":1.6,"y":-0.14},{"c":2,"x":1,"y":-0.165}
],
"rS25": [
{"c":1,"x":0.7,"y":-0.026},{"c":1,"x":1.4,"y":-0.023},{"c":1,"x":6.9,"y":-0.012},{"c":1,"x":20.6,"y":0.004},{"c":1,"x":34.3,"y":0.019},{"c":1,"x":48.1,"y":0.034},{"c":1,"x":61.8,"y":0.048},{"c":1,"x":75.5,"y":0.06},{"c":1,"x":89.3,"y":0.072},{"c":1,"x":103,"y":0.081},{"c":1,"x":116.8,"y":0.092},{"c":1,"x":119.5,"y":0.095},{"c":1,"x":119.8,"y":0.081},{"c":1,"x":119.5,"y":0.063},{"c":1,"x":116.8,"y":0.052},{"c":1,"x":109.9,"y":0.04},{"c":1,"x":103,"y":0.031},{"c":1,"x":89.3,"y":0.015},{"c":1,"x":75.5,"y":0.002},{"c":1,"x":61.8,"y":-0.01},{"c":1,"x":48.1,"y":-0.023},{"c":1,"x":34.3,"y":-0.034},{"c":1,"x":20.6,"y":-0.044},{"c":1,"x":6.9,"y":-0.054},{"c":1,"x":1.4,"y":-0.059},{"c":1,"x":0.3,"y":-0.058},{"c":1,"x":0.3,"y":-0.041},{"c":1,"x":0.7,"y":-0.026},
{"c":2,"x":0.6,"y":-0.03},{"c":2,"x":1.4,"y":-0.027},{"c":2,"x":6.9,"y":-0.015},{"c":2,"x":20.6,"y":0.001},{"c":2,"x":34.3,"y":0.017},{"c":2,"x":48.1,"y":0.032},{"c":2,"x":61.8,"y":0.046},{"c":2,"x":75.5,"y":0.058},{"c":2,"x":89.3,"y":0.07},{"c":2,"x":103,"y":0.08},{"c":2,"x":116.8,"y":0.09},{"c":2,"x":120,"y":0.092},{"c":2,"x":120.2,"y":0.078},{"c":2,"x":119.8,"y":0.06},{"c":2,"x":116.8,"y":0.05},{"c":2,"x":109.9,"y":0.037},{"c":2,"x":103,"y":0.028},{"c":2,"x":89.3,"y":0.012},{"c":2,"x":75.5,"y":-0.001},{"c":2,"x":61.8,"y":-0.013},{"c":2,"x":48.1,"y":-0.026},{"c":2,"x":34.3,"y":-0.037},{"c":2,"x":20.6,"y":-0.047},{"c":2,"x":6.9,"y":-0.056},{"c":2,"x":1.4,"y":-0.061},{"c":2,"x":0.4,"y":-0.06},{"c":2,"x":0.3,"y":-0.045},{"c":2,"x":0.6,"y":-0.03}
],
"rS2": [
{"c":1,"x":0.7,"y":-0.018},{"c":1,"x":6.9,"y":-0.009},{"c":1,"x":20.6,"y":0.004},{"c":1,"x":34.3,"y":0.015},{"c":1,"x":48.1,"y":0.028},{"c":1,"x":61.8,"y":0.039},{"c":1,"x":75.5,"y":0.05},{"c":1,"x":89.3,"y":0.06},{"c":1,"x":103,"y":0.068},{"c":1,"x":116.8,"y":0.075},{"c":1,"x":120.2,"y":0.078},{"c":1,"x":120.5,"y":0.066},{"c":1,"x":120.2,"y":0.054},{"c":1,"x":116.8,"y":0.048},{"c":1,"x":103,"y":0.035},{"c":1,"x":89.3,"y":0.023},{"c":1,"x":75.5,"y":0.011},{"c":1,"x":61.8,"y":0.001},{"c":1,"x":48.1,"y":-0.009},{"c":1,"x":34.3,"y":-0.018},{"c":1,"x":20.6,"y":-0.028},{"c":1,"x":6.9,"y":-0.036},{"c":1,"x":1.4,"y":-0.042},{"c":1,"x":0.3,"y":-0.041},{"c":1,"x":0.3,"y":-0.023},{"c":1,"x":0.7,"y":-0.018},
{"c":2,"x":0.6,"y":-0.021},{"c":2,"x":6.9,"y":-0.011},{"c":2,"x":20.6,"y":0.002},{"c":2,"x":34.3,"y":0.013},{"c":2,"x":48.1,"y":0.026},{"c":2,"x":61.8,"y":0.037},{"c":2,"x":75.5,"y":0.048},{"c":2,"x":89.3,"y":0.058},{"c":2,"x":103,"y":0.066},{"c":2,"x":116.8,"y":0.073},{"c":2,"x":120.6,"y":0.075},{"c":2,"x":120.8,"y":0.063},{"c":2,"x":120.4,"y":0.051},{"c":2,"x":116.8,"y":0.046},{"c":2,"x":103,"y":0.033},{"c":2,"x":89.3,"y":0.021},{"c":2,"x":75.5,"y":0.009},{"c":2,"x":61.8,"y":-0.001},{"c":2,"x":48.1,"y":-0.011},{"c":2,"x":34.3,"y":-0.02},{"c":2,"x":20.6,"y":-0.03},{"c":2,"x":6.9,"y":-0.038},{"c":2,"x":1.4,"y":-0.044},{"c":2,"x":0.2,"y":-0.043},{"c":2,"x":0.2,"y":-0.026},{"c":2,"x":0.6,"y":-0.021}
],
"rO": [
{"c":1,"x":0,"y":-0.125},{"c":1,"x":0.7,"y":-0.135},{"c":1,"x":2.5,"y":-0.128},{"c":1,"x":4.5,"y":-0.122},{"c":1,"x":6.5,"y":-0.12},{"c":1,"x":8.5,"y":-0.112},{"c":1,"x":10.5,"y":-0.114},{"c":1,"x":12.5,"y":-0.104},{"c":1,"x":14.5,"y":-0.106},{"c":1,"x":16.5,"y":-0.096},{"c":1,"x":18.5,"y":-0.098},{"c":1,"x":20.5,"y":-0.088},{"c":1,"x":22.5,"y":-0.09},{"c":1,"x":24.5,"y":-0.08},{"c":1,"x":26.5,"y":-0.082},{"c":1,"x":28.5,"y":-0.072},{"c":1,"x":30.5,"y":-0.074},{"c":1,"x":32.5,"y":-0.064},{"c":1,"x":34.5,"y":-0.066},{"c":1,"x":36.5,"y":-0.056},{"c":1,"x":38.5,"y":-0.058},{"c":1,"x":40.5,"y":-0.05},{"c":1,"x":42.5,"y":-0.052},{"c":1,"x":44.5,"y":-0.042},{"c":1,"x":46.5,"y":-0.046},{"c":1,"x":48.5,"y":-0.036},{"c":1,"x":50.5,"y":-0.042},{"c":1,"x":52.5,"y":-0.032},{"c":1,"x":54.5,"y":-0.038},{"c":1,"x":56.5,"y":-0.03},{"c":1,"x":58.5,"y":-0.036},{"c":1,"x":60.5,"y":-0.026},{"c":1,"x":62.5,"y":-0.034},{"c":1,"x":64.5,"y":-0.024},{"c":1,"x":66.5,"y":-0.032},{"c":1,"x":68.5,"y":-0.022},{"c":1,"x":70.5,"y":-0.03},{"c":1,"x":72.5,"y":-0.02},{"c":1,"x":74.5,"y":-0.028},{"c":1,"x":76.5,"y":-0.016},{"c":1,"x":78.5,"y":-0.022},{"c":1,"x":80.5,"y":-0.012},{"c":1,"x":82.5,"y":-0.016},{"c":1,"x":84.5,"y":-0.006},{"c":1,"x":86.5,"y":-0.01},{"c":1,"x":88.5,"y":-0.002},{"c":1,"x":90.5,"y":-0.006},{"c":1,"x":92.5,"y":0.003},{"c":1,"x":94.5,"y":-0.001},{"c":1,"x":96.5,"y":0.006},{"c":1,"x":98.5,"y":0.004},{"c":1,"x":100.5,"y":0.01},{"c":1,"x":102.5,"y":0.01},{"c":1,"x":104.5,"y":0.018},{"c":1,"x":106.5,"y":0.024},{"c":1,"x":108.5,"y":0.034},{"c":1,"x":110.5,"y":0.046},{"c":1,"x":112,"y":0.058},{"c":1,"x":113.5,"y":0.074},{"c":1,"x":115,"y":0.092},{"c":1,"x":116.2,"y":0.11},{"c":1,"x":117.2,"y":0.128},{"c":1,"x":118,"y":0.145},{"c":1,"x":118.6,"y":0.162},{"c":1,"x":119,"y":0.168},
{"c":1,"x":117.5,"y":0.162},{"c":1,"x":115.5,"y":0.166},{"c":1,"x":113.5,"y":0.156},{"c":1,"x":111.5,"y":0.16},{"c":1,"x":109.5,"y":0.15},{"c":1,"x":107.5,"y":0.155},{"c":1,"x":105.5,"y":0.145},{"c":1,"x":103.5,"y":0.15},{"c":1,"x":101.5,"y":0.14},{"c":1,"x":99.5,"y":0.146},{"c":1,"x":97.5,"y":0.134},{"c":1,"x":95.5,"y":0.14},{"c":1,"x":93.5,"y":0.13},{"c":1,"x":91.5,"y":0.134},{"c":1,"x":89.5,"y":0.124},{"c":1,"x":87.5,"y":0.13},{"c":1,"x":85.5,"y":0.12},{"c":1,"x":83.5,"y":0.125},{"c":1,"x":81.5,"y":0.116},{"c":1,"x":79.5,"y":0.12},{"c":1,"x":77.5,"y":0.11},{"c":1,"x":75.5,"y":0.116},{"c":1,"x":73.5,"y":0.106},{"c":1,"x":71.5,"y":0.11},{"c":1,"x":69.5,"y":0.102},{"c":1,"x":67.5,"y":0.106},{"c":1,"x":65.5,"y":0.096},{"c":1,"x":63.5,"y":0.1},{"c":1,"x":61.5,"y":0.092},{"c":1,"x":59.5,"y":0.096},{"c":1,"x":57.5,"y":0.086},{"c":1,"x":55.5,"y":0.09},{"c":1,"x":53.5,"y":0.082},{"c":1,"x":51.5,"y":0.086},{"c":1,"x":49.5,"y":0.078},{"c":1,"x":47.5,"y":0.082},{"c":1,"x":45.5,"y":0.074},{"c":1,"x":43.5,"y":0.08},{"c":1,"x":41.5,"y":0.072},{"c":1,"x":39.5,"y":0.076},{"c":1,"x":37.5,"y":0.068},{"c":1,"x":35.5,"y":0.072},{"c":1,"x":33.5,"y":0.066},{"c":1,"x":31.5,"y":0.07},{"c":1,"x":29.5,"y":0.062},{"c":1,"x":27.5,"y":0.066},{"c":1,"x":25.5,"y":0.06},{"c":1,"x":23.5,"y":0.062},{"c":1,"x":21.5,"y":0.056},{"c":1,"x":19.5,"y":0.056},{"c":1,"x":17.5,"y":0.05},{"c":1,"x":15.5,"y":0.046},{"c":1,"x":13.5,"y":0.04},{"c":1,"x":11.7,"y":0.032},{"c":1,"x":10,"y":0.022},{"c":1,"x":8.6,"y":0.01},{"c":1,"x":7.2,"y":-0.004},{"c":1,"x":5.8,"y":-0.02},{"c":1,"x":4.5,"y":-0.036},{"c":1,"x":3.2,"y":-0.055},{"c":1,"x":2,"y":-0.076},{"c":1,"x":1,"y":-0.098},{"c":1,"x":0.3,"y":-0.115},{"c":1,"x":0,"y":-0.125},
{"c":2,"x":0,"y":-0.13},{"c":2,"x":0.8,"y":-0.14},{"c":2,"x":2.5,"y":-0.132},{"c":2,"x":4.5,"y":-0.126},{"c":2,"x":6.5,"y":-0.116},{"c":2,"x":8.5,"y":-0.118},{"c":2,"x":10.5,"y":-0.108},{"c":2,"x":12.5,"y":-0.11},{"c":2,"x":14.5,"y":-0.1},{"c":2,"x":16.5,"y":-0.102},{"c":2,"x":18.5,"y":-0.092},{"c":2,"x":20.5,"y":-0.094},{"c":2,"x":22.5,"y":-0.084},{"c":2,"x":24.5,"y":-0.086},{"c":2,"x":26.5,"y":-0.076},{"c":2,"x":28.5,"y":-0.078},{"c":2,"x":30.5,"y":-0.068},{"c":2,"x":32.5,"y":-0.07},{"c":2,"x":34.5,"y":-0.06},{"c":2,"x":36.5,"y":-0.062},{"c":2,"x":38.5,"y":-0.052},{"c":2,"x":40.5,"y":-0.056},{"c":2,"x":42.5,"y":-0.046},{"c":2,"x":44.5,"y":-0.048},{"c":2,"x":46.5,"y":-0.04},{"c":2,"x":48.5,"y":-0.044},{"c":2,"x":50.5,"y":-0.034},{"c":2,"x":52.5,"y":-0.04},{"c":2,"x":54.5,"y":-0.03},{"c":2,"x":56.5,"y":-0.036},{"c":2,"x":58.5,"y":-0.028},{"c":2,"x":60.5,"y":-0.034},{"c":2,"x":62.5,"y":-0.024},{"c":2,"x":64.5,"y":-0.03},{"c":2,"x":66.5,"y":-0.022},{"c":2,"x":68.5,"y":-0.028},{"c":2,"x":70.5,"y":-0.018},{"c":2,"x":72.5,"y":-0.026},{"c":2,"x":74.5,"y":-0.016},{"c":2,"x":76.5,"y":-0.02},{"c":2,"x":78.5,"y":-0.012},{"c":2,"x":80.5,"y":-0.016},{"c":2,"x":82.5,"y":-0.008},{"c":2,"x":84.5,"y":-0.01},{"c":2,"x":86.5,"y":-0.002},{"c":2,"x":88.5,"y":-0.006},{"c":2,"x":90.5,"y":0.002},{"c":2,"x":92.5,"y":-0.002},{"c":2,"x":94.5,"y":0.006},{"c":2,"x":96.5,"y":0.002},{"c":2,"x":98.5,"y":0.01},{"c":2,"x":100.5,"y":0.008},{"c":2,"x":102.5,"y":0.016},{"c":2,"x":104.5,"y":0.02},{"c":2,"x":106.5,"y":0.03},{"c":2,"x":108.5,"y":0.04},{"c":2,"x":110.5,"y":0.052},{"c":2,"x":112,"y":0.066},{"c":2,"x":113.5,"y":0.082},{"c":2,"x":115,"y":0.1},{"c":2,"x":116.2,"y":0.118},{"c":2,"x":117.2,"y":0.136},{"c":2,"x":118,"y":0.152},{"c":2,"x":118.8,"y":0.166},
{"c":2,"x":117,"y":0.158},{"c":2,"x":115,"y":0.162},{"c":2,"x":113,"y":0.152},{"c":2,"x":111,"y":0.156},{"c":2,"x":109,"y":0.146},{"c":2,"x":107,"y":0.152},{"c":2,"x":105,"y":0.142},{"c":2,"x":103,"y":0.146},{"c":2,"x":101,"y":0.136},{"c":2,"x":99,"y":0.142},{"c":2,"x":97,"y":0.132},{"c":2,"x":95,"y":0.136},{"c":2,"x":93,"y":0.126},{"c":2,"x":91,"y":0.13},{"c":2,"x":89,"y":0.12},{"c":2,"x":87,"y":0.126},{"c":2,"x":85,"y":0.116},{"c":2,"x":83,"y":0.122},{"c":2,"x":81,"y":0.112},{"c":2,"x":79,"y":0.118},{"c":2,"x":77,"y":0.108},{"c":2,"x":75,"y":0.112},{"c":2,"x":73,"y":0.104},{"c":2,"x":71,"y":0.108},{"c":2,"x":69,"y":0.098},{"c":2,"x":67,"y":0.104},{"c":2,"x":65,"y":0.094},{"c":2,"x":63,"y":0.098},{"c":2,"x":61,"y":0.09},{"c":2,"x":59,"y":0.094},{"c":2,"x":57,"y":0.084},{"c":2,"x":55,"y":0.088},{"c":2,"x":53,"y":0.08},{"c":2,"x":51,"y":0.084},{"c":2,"x":49,"y":0.076},{"c":2,"x":47,"y":0.08},{"c":2,"x":45,"y":0.072},{"c":2,"x":43,"y":0.076},{"c":2,"x":41,"y":0.07},{"c":2,"x":39,"y":0.074},{"c":2,"x":37,"y":0.066},{"c":2,"x":35,"y":0.07},{"c":2,"x":33,"y":0.062},{"c":2,"x":31,"y":0.066},{"c":2,"x":29,"y":0.06},{"c":2,"x":27,"y":0.064},{"c":2,"x":25,"y":0.058},{"c":2,"x":23,"y":0.06},{"c":2,"x":21,"y":0.054},{"c":2,"x":19,"y":0.054},{"c":2,"x":17,"y":0.046},{"c":2,"x":15,"y":0.042},{"c":2,"x":13,"y":0.034},{"c":2,"x":11.2,"y":0.026},{"c":2,"x":9.6,"y":0.014},{"c":2,"x":8.2,"y":0.002},{"c":2,"x":6.8,"y":-0.012},{"c":2,"x":5.4,"y":-0.028},{"c":2,"x":4.1,"y":-0.046},{"c":2,"x":2.9,"y":-0.066},{"c":2,"x":1.8,"y":-0.088},{"c":2,"x":0.9,"y":-0.108},{"c":2,"x":0.2,"y":-0.122},{"c":2,"x":0,"y":-0.13}
],
"ann": [
{"p":1,"g":"a","x":3.4,"y":1.0},{"p":1,"g":"a","x":3.6,"y":1.5},{"p":1,"g":"a","x":4.3,"y":2.0},{"p":1,"g":"a","x":5.6,"y":2.45},{"p":1,"g":"a","x":7.5,"y":2.8},{"p":1,"g":"a","x":10.5,"y":3.05},{"p":1,"g":"a","x":14,"y":3.2},{"p":1,"g":"a","x":18,"y":3.27},{"p":1,"g":"a","x":25,"y":3.3},{"p":1,"g":"a","x":78,"y":3.3},
{"p":1,"g":"b","x":75,"y":3.55},{"p":1,"g":"b","x":78.5,"y":3.3},{"p":1,"g":"b","x":75,"y":3.05},
{"p":1,"g":"c","x":200.7,"y":-0.7},{"p":1,"g":"c","x":200.6,"y":-1.2},{"p":1,"g":"c","x":200.2,"y":-1.7},{"p":1,"g":"c","x":199,"y":-2.15},{"p":1,"g":"c","x":197,"y":-2.5},{"p":1,"g":"c","x":194,"y":-2.72},{"p":1,"g":"c","x":190,"y":-2.85},{"p":1,"g":"c","x":184,"y":-2.92},{"p":1,"g":"c","x":175,"y":-2.94},{"p":1,"g":"c","x":127,"y":-2.94},
{"p":1,"g":"d","x":130.5,"y":-2.69},{"p":1,"g":"d","x":127,"y":-2.94},{"p":1,"g":"d","x":130.5,"y":-3.19},
{"p":3,"g":"a","x":46,"y":0.136},{"p":3,"g":"a","x":20.6,"y":0.133},{"p":3,"g":"a","x":13.7,"y":0.129},{"p":3,"g":"a","x":8.2,"y":0.119},{"p":3,"g":"a","x":4.1,"y":0.106},{"p":3,"g":"a","x":1.4,"y":0.087},{"p":3,"g":"a","x":0,"y":0.069},{"p":3,"g":"a","x":-0.5,"y":0.041},
{"p":3,"g":"b","x":-3.0,"y":0.052},{"p":3,"g":"b","x":-0.5,"y":0.04},{"p":3,"g":"b","x":2.0,"y":0.052},
{"p":3,"g":"c","x":70,"y":-0.136},{"p":3,"g":"c","x":103,"y":-0.136},{"p":3,"g":"c","x":109.9,"y":-0.131},{"p":3,"g":"c","x":114,"y":-0.12},{"p":3,"g":"c","x":116.8,"y":-0.102},{"p":3,"g":"c","x":118.1,"y":-0.078},{"p":3,"g":"c","x":118.4,"y":-0.045},
{"p":3,"g":"d","x":115.9,"y":-0.056},{"p":3,"g":"d","x":118.4,"y":-0.044},{"p":3,"g":"d","x":120.9,"y":-0.056},
{"p":4,"g":"a","x":45.5,"y":0.133},{"p":4,"g":"a","x":18.6,"y":0.13},{"p":4,"g":"a","x":11.7,"y":0.126},{"p":4,"g":"a","x":6.2,"y":0.117},{"p":4,"g":"a","x":2.1,"y":0.103},{"p":4,"g":"a","x":-0.7,"y":0.084},{"p":4,"g":"a","x":-2.1,"y":0.066},{"p":4,"g":"a","x":-2.6,"y":0.041},
{"p":4,"g":"b","x":-5.1,"y":0.052},{"p":4,"g":"b","x":-2.6,"y":0.04},{"p":4,"g":"b","x":-0.1,"y":0.052},
{"p":4,"g":"c","x":69.7,"y":-0.136},{"p":4,"g":"c","x":104.1,"y":-0.136},{"p":4,"g":"c","x":110.3,"y":-0.13},{"p":4,"g":"c","x":114.5,"y":-0.117},{"p":4,"g":"c","x":116.8,"y":-0.096},{"p":4,"g":"c","x":117.7,"y":-0.072},{"p":4,"g":"c","x":117.9,"y":-0.045},
{"p":4,"g":"d","x":115.4,"y":-0.056},{"p":4,"g":"d","x":117.9,"y":-0.044},{"p":4,"g":"d","x":120.4,"y":-0.056}
],
"txt": [
{"p":1,"t":"Recovery","x":46,"y":3.91},{"p":1,"t":"Power","x":150,"y":-3.6},
{"p":3,"t":"Power","x":30.9,"y":0.155},{"p":3,"t":"Recovery","x":98.9,"y":-0.162},
{"p":4,"t":"Power","x":25.8,"y":0.155},{"p":4,"t":"Recovery","x":100.1,"y":-0.162}
]
},
"hconcat": [
{
 "title": {"text": ["(1)", "Effect of Compliance (Dragging)"]},
 "width": 306, "height": 195,
 "encoding": {
  "x": {"field": "x", "type": "quantitative", "scale": {"domain": [-0.5, 205], "nice": false, "zero": false}, "axis": {"values": [0, 50, 100, 150, 200], "title": "Distance(mm)"}},
  "y": {"field": "y", "type": "quantitative", "scale": {"domain": [-4, 4.5], "nice": false, "zero": false}, "axis": {"values": [-4, -2, 0, 2, 4], "title": "Force(N)", "labelExpr": "replace(datum.label, '\u2212', '-')"}}
 },
 "layer": [
  {"data": {"name": "dR"}, "mark": {"type": "line", "strokeWidth": 0.9},
   "encoding": {"detail": {"field": "c"}, "order": {"value": null},
    "color": {"datum": "Rigid", "type": "nominal", "scale": {"domain": ["Soft (2.5mm)", "Soft (2mm)", "Origami (2mm)", "Rigid"], "range": ["#0000ff", "#00ffff", "#ff0000", "#000000"]},
     "legend": {"orient": "none", "legendX": 380, "legendY": -97, "direction": "horizontal", "title": "\u00a0", "titleOrient": "right", "titlePadding": 52, "titleFontSize": 25, "symbolType": "stroke", "symbolStrokeWidth": 3, "symbolSize": 1089, "labelFontSize": 25, "labelFont": "Liberation Serif", "labelColor": "black", "strokeColor": "#888888", "fillColor": "white", "padding": 4, "columnPadding": 6, "labelOffset": 2, "symbolOffset": 6, "labelLimit": 400}}}},
  {"data": {"name": "dS2"}, "mark": {"type": "line", "strokeWidth": 0.9},
   "encoding": {"detail": {"field": "c"}, "order": {"value": null}, "color": {"datum": "Soft (2mm)", "type": "nominal"}}},
  {"data": {"name": "dS25"}, "mark": {"type": "line", "strokeWidth": 0.9},
   "encoding": {"detail": {"field": "c"}, "order": {"value": null}, "color": {"datum": "Soft (2.5mm)", "type": "nominal"}}},
  {"data": {"name": "ann"}, "transform": [{"filter": "datum.p == 1"}], "mark": {"type": "line", "strokeWidth": 2, "color": "black"},
   "encoding": {"detail": {"field": "g"}, "order": {"value": null}}},
  {"data": {"name": "txt"}, "transform": [{"filter": "datum.p == 1"}], "mark": {"type": "text", "fontSize": 20, "font": "Liberation Serif", "color": "black", "baseline": "middle", "align": "center"},
   "encoding": {"text": {"field": "t"}}}
 ]
},
{
 "title": {"text": ["(2)", "Effect of Stop (Dragging)"]},
 "width": 306, "height": 195,
 "encoding": {
  "x": {"field": "x", "type": "quantitative", "scale": {"domain": [-0.5, 205], "nice": false, "zero": false}, "axis": {"values": [0, 50, 100, 150, 200], "title": "Distance(mm)"}},
  "y": {"field": "y", "type": "quantitative", "scale": {"domain": [-4, 4.5], "nice": false, "zero": false}, "axis": {"values": [-4, -2, 0, 2, 4], "title": "Force(N)", "labelExpr": "replace(datum.label, '\u2212', '-')"}}
 },
 "layer": [
  {"data": {"name": "dR"}, "mark": {"type": "line", "strokeWidth": 0.9},
   "encoding": {"detail": {"field": "c"}, "order": {"value": null}, "color": {"datum": "Rigid", "type": "nominal"}}},
  {"data": {"name": "dS2"}, "mark": {"type": "line", "strokeWidth": 0.9},
   "encoding": {"detail": {"field": "c"}, "order": {"value": null}, "color": {"datum": "Soft (2mm)", "type": "nominal"}}},
  {"data": {"name": "dO"}, "mark": {"type": "line", "strokeWidth": 0.9},
   "encoding": {"detail": {"field": "c"}, "order": {"value": null}, "color": {"datum": "Origami (2mm)", "type": "nominal"}}},
  {"data": {"name": "ann"}, "transform": [{"filter": "datum.p == 1"}], "mark": {"type": "line", "strokeWidth": 2, "color": "black"},
   "encoding": {"detail": {"field": "g"}, "order": {"value": null}}},
  {"data": {"name": "txt"}, "transform": [{"filter": "datum.p == 1"}], "mark": {"type": "text", "fontSize": 20, "font": "Liberation Serif", "color": "black", "baseline": "middle", "align": "center"},
   "encoding": {"text": {"field": "t"}}}
 ]
},
{
 "title": {"text": ["(3)", "Effect of Compliance (Rotating)"]},
 "width": 314, "height": 195,
 "encoding": {
  "x": {"field": "x", "type": "quantitative", "scale": {"domain": [-5.4, 125], "nice": false, "zero": false}, "axis": {"values": [0, 50, 100], "title": "Angle(°)"}},
  "y": {"field": "y", "type": "quantitative", "scale": {"domain": [-0.18, 0.18], "nice": false, "zero": false}, "axis": {"values": [-0.1, 0, 0.1], "title": "Torque(N·m)", "labelExpr": "replace(datum.label, '\u2212', '-')"}}
 },
 "layer": [
  {"data": {"name": "rR"}, "mark": {"type": "line", "strokeWidth": 0.9},
   "encoding": {"detail": {"field": "c"}, "order": {"value": null}, "color": {"datum": "Rigid", "type": "nominal"}}},
  {"data": {"name": "rS2"}, "mark": {"type": "line", "strokeWidth": 0.9, "interpolate": "catmull-rom"},
   "encoding": {"detail": {"field": "c"}, "order": {"value": null}, "color": {"datum": "Soft (2mm)", "type": "nominal"}}},
  {"data": {"name": "rS25"}, "mark": {"type": "line", "strokeWidth": 0.9, "interpolate": "catmull-rom"},
   "encoding": {"detail": {"field": "c"}, "order": {"value": null}, "color": {"datum": "Soft (2.5mm)", "type": "nominal"}}},
  {"data": {"name": "ann"}, "transform": [{"filter": "datum.p == 3"}], "mark": {"type": "line", "strokeWidth": 2, "color": "black"},
   "encoding": {"detail": {"field": "g"}, "order": {"value": null}}},
  {"data": {"name": "txt"}, "transform": [{"filter": "datum.p == 3"}], "mark": {"type": "text", "fontSize": 20, "font": "Liberation Serif", "color": "black", "baseline": "middle", "align": "center"},
   "encoding": {"text": {"field": "t"}}}
 ]
},
{
 "title": {"text": ["(4)", "Effect of Stop (Rotating)"]},
 "width": 311, "height": 195,
 "encoding": {
  "x": {"field": "x", "type": "quantitative", "scale": {"domain": [-5.3, 124.3], "nice": false, "zero": false}, "axis": {"values": [0, 50, 100], "title": "Angle(°)"}},
  "y": {"field": "y", "type": "quantitative", "scale": {"domain": [-0.18, 0.18], "nice": false, "zero": false}, "axis": {"values": [-0.1, 0, 0.1], "title": "Torque(N·m)", "labelExpr": "replace(datum.label, '\u2212', '-')"}}
 },
 "layer": [
  {"data": {"name": "rR"}, "mark": {"type": "line", "strokeWidth": 0.9},
   "encoding": {"detail": {"field": "c"}, "order": {"value": null}, "color": {"datum": "Rigid", "type": "nominal"}}},
  {"data": {"name": "rS2"}, "mark": {"type": "line", "strokeWidth": 0.9, "interpolate": "catmull-rom"},
   "encoding": {"detail": {"field": "c"}, "order": {"value": null}, "color": {"datum": "Soft (2mm)", "type": "nominal"}}},
  {"data": {"name": "rO"}, "mark": {"type": "line", "strokeWidth": 0.9},
   "encoding": {"detail": {"field": "c"}, "order": {"value": null}, "color": {"datum": "Origami (2mm)", "type": "nominal"}}},
  {"data": {"name": "ann"}, "transform": [{"filter": "datum.p == 4"}], "mark": {"type": "line", "strokeWidth": 2, "color": "black"},
   "encoding": {"detail": {"field": "g"}, "order": {"value": null}}},
  {"data": {"name": "txt"}, "transform": [{"filter": "datum.p == 4"}], "mark": {"type": "text", "fontSize": 20, "font": "Liberation Serif", "color": "black", "baseline": "middle", "align": "center"},
   "encoding": {"text": {"field": "t"}}}
 ]
}
]
}
